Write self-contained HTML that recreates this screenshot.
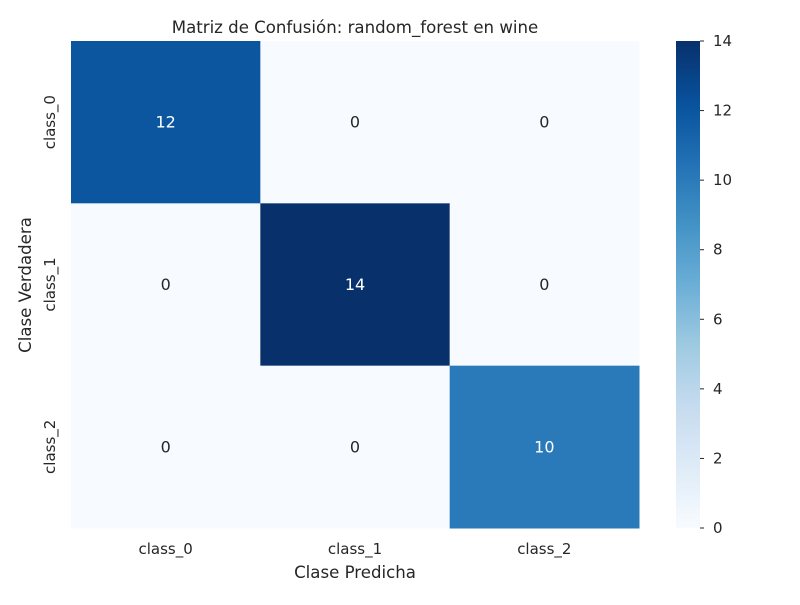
<!DOCTYPE html>
<html><head><meta charset="utf-8"><style>
body{margin:0;background:#fff;}
svg text{font-family:"DejaVu Sans","Liberation Sans",sans-serif;fill:#262626;}
</style></head><body>
<svg id="chart" width="800" height="600" xmlns="http://www.w3.org/2000/svg">
<defs>
<linearGradient id="cbar" x1="0" y1="1" x2="0" y2="0">
<stop offset="0" stop-color="#f7fbff"/><stop offset="0.125" stop-color="#deebf7"/><stop offset="0.25" stop-color="#c6dbef"/><stop offset="0.375" stop-color="#9ecae1"/><stop offset="0.5" stop-color="#6baed6"/><stop offset="0.625" stop-color="#4292c6"/><stop offset="0.75" stop-color="#2171b5"/><stop offset="0.875" stop-color="#08519c"/><stop offset="1" stop-color="#08306b"/>
</linearGradient>
</defs>
<text x="355" y="33" font-size="16.6" text-anchor="middle">Matriz de Confusión: random_forest en wine</text>
<g id="cells"></g>
<rect x="676" y="41" width="24" height="487" fill="url(#cbar)"/>
<g id="cbticks"></g>
<text x="355" y="578" font-size="16.6" text-anchor="middle">Clase Predicha</text>
<text transform="translate(31,285) rotate(-90)" font-size="16.6" text-anchor="middle">Clase Verdadera</text>
</svg>
<script>
const classes = ["class_0","class_1","class_2"];
const matrix = [[12,0,0],[0,14,0],[0,0,10]];
const cbTicks = [0,2,4,6,8,10,12,14];
const vmin = 0, vmax = 14;
const X0=71,X1=639,Y0=41,Y1=528;
const NS="http://www.w3.org/2000/svg";
const stops=["#f7fbff","#deebf7","#c6dbef","#9ecae1","#6baed6","#4292c6","#2171b5","#08519c","#08306b"];
function hex(h){return [1,3,5].map(i=>parseInt(h.substr(i,2),16));}
function color(v){let t=(v-vmin)/(vmax-vmin)*(stops.length-1);let i=Math.min(Math.floor(t),stops.length-2);let f=t-i;let a=hex(stops[i]),b=hex(stops[i+1]);return "rgb("+a.map((c,k)=>Math.round(c+(b[k]-c)*f)).join(",")+")";}
const cw=(X1-X0)/classes.length, ch=(Y1-Y0)/classes.length;
const xs=j=>X0+j*cw, ys=i=>Y0+i*ch, cy=v=>Y1-(v-vmin)/(vmax-vmin)*(Y1-Y0);
const svg=document.getElementById("chart"), g=document.getElementById("cells"), cb=document.getElementById("cbticks");
function mk(tag,attrs,parent,txt){const e=document.createElementNS(NS,tag);for(const k in attrs)e.setAttribute(k,attrs[k]);if(txt!==undefined)e.textContent=txt;parent.appendChild(e);return e;}
matrix.forEach((row,i)=>row.forEach((v,j)=>{
  const r=mk("rect",{x:xs(j),y:ys(i),width:cw+0.5,height:ch+0.5,fill:color(v)},g);
  
  
  const t=mk("text",{x:xs(j)+cw/2,y:ys(i)+ch/2+5.5,"font-size":"16","text-anchor":"middle",style:"fill:"+(v>vmax/2?"#ffffff":"#262626")},g,String(v));
  
  
}));
classes.forEach((c,j)=>{
  const t=mk("text",{x:xs(j)+cw/2,y:554,"font-size":"15","text-anchor":"middle"},svg,c);
  
  
  const t2=mk("text",{transform:"translate(55,"+(ys(j)+ch/2)+") rotate(-90)","font-size":"15","text-anchor":"middle"},svg,c);
  
  
});
cbTicks.forEach(v=>{
  const l=mk("line",{x1:700,x2:704,y1:cy(v),y2:cy(v),stroke:"#262626","stroke-width":"1"},cb);
  
  
  const t=mk("text",{x:713,y:cy(v)+5,"font-size":"15"},cb,String(v));
  
  
});
</script>
</body></html>
